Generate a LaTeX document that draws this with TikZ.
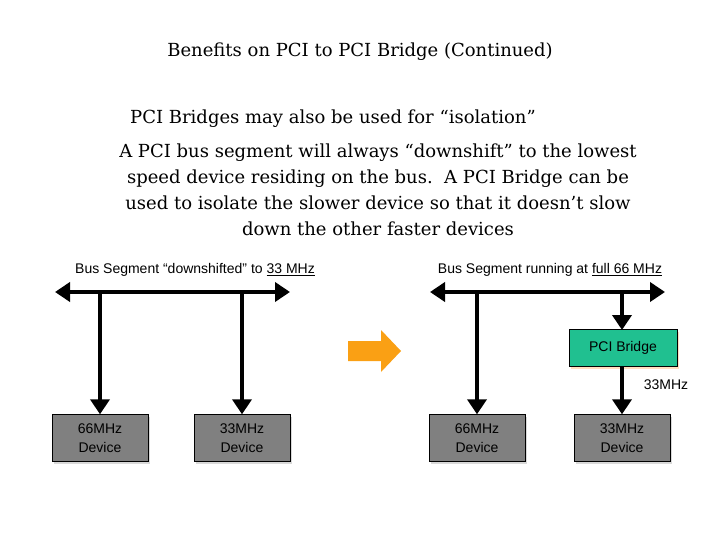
\documentclass[tikz,border=0pt]{standalone}
\usepackage{fontspec}
\setmainfont{DejaVu Serif}
\newfontfamily\arialf{Liberation Sans}
\usetikzlibrary{arrows.meta,shadows}
\definecolor{bridgec}{RGB}{32,192,144}
\definecolor{devc}{RGB}{128,128,128}
\definecolor{orangec}{RGB}{250,160,20}
\begin{document}
\begin{tikzpicture}[x=1pt,y=-1pt,
  bus/.style={line width=4.5pt,{Triangle[width=19pt,length=15pt]}-{Triangle[width=19pt,length=15pt]}},
  drop/.style={line width=4.5pt,-{Triangle[width=19pt,length=15pt]}},
  dev/.style={draw=black,fill=devc,minimum width=96pt,minimum height=47pt,align=center,font=\arialf\fontsize{14pt}{19pt}\selectfont,inner sep=0pt,
    drop shadow={shadow xshift=2pt,shadow yshift=-2pt,fill=gray!30,opacity=1}},
  lab/.style={font=\arialf\fontsize{14pt}{16pt}\selectfont,inner sep=0pt},
  txt/.style={font=\fontsize{18pt}{26pt}\selectfont,inner sep=0pt}]
\useasboundingbox (0,0) rectangle (720,540);
\node[txt] (title) at (360,52) {Benefits on PCI to PCI Bridge (Continued)};
\node[txt,anchor=west] (l1) at (130,119) {PCI Bridges may also be used for “isolation”};
\node[txt,align=center] (body) at (378,190) {A PCI bus segment will always “downshift” to the lowest\\speed device residing on the bus.\ \ A PCI Bridge can be\\used to isolate the slower device so that it doesn’t slow\\down the other faster devices};
\node[lab] (lt) at (195,270) {Bus Segment “downshifted” to \underline{33 MHz}};
\node[lab] (rt) at (550,270) {Bus Segment running at \underline{full 66 MHz}};
% left
\coordinate (la) at (55,292); \coordinate (lb) at (290,292);
\draw[bus] (la) -- (lb);
\node[dev] (d1) at (100,438) {66MHz\\Device};
\node[dev] (d2) at (242,438) {33MHz\\Device};
\draw[drop] (100,292) -- (d1.north);
\draw[drop] (242,292) -- (d2.north);
% arrow
\fill[orangec] (348,341) -- (381,341) -- (381,330) -- (401,351) -- (381,372) -- (381,361) -- (348,361) -- cycle;
% right
\coordinate (ra) at (430,292); \coordinate (rb) at (665,292);
\draw[bus] (ra) -- (rb);
\node[dev] (d3) at (477,438) {66MHz\\Device};
\node[dev] (d4) at (622,438) {33MHz\\Device};
\node[dev,fill=bridgec,minimum width=108pt,minimum height=37pt,drop shadow={shadow xshift=2pt,shadow yshift=-2pt,fill=orange!25,opacity=1}] (br) at (623,348) {PCI Bridge};
\draw[drop] (622,292) -- (622,330);
\draw[drop] (477,292) -- (d3.north);
\draw[drop] (622,366) -- (d4.north);
\node[lab] (mhz) at (666,385) {33MHz};
\end{tikzpicture}
\end{document}
